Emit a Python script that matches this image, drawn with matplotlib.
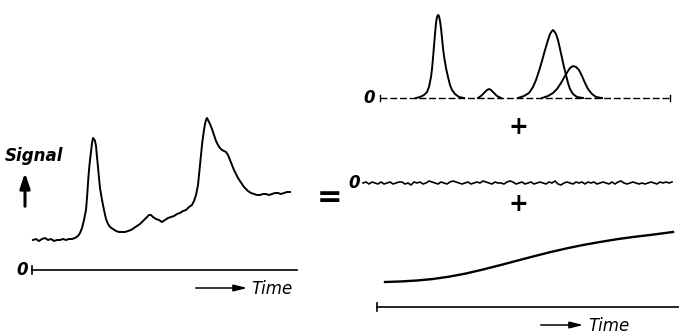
import numpy as np
import matplotlib
matplotlib.use("Agg")
import matplotlib.pyplot as plt

W, H = 679, 335

# left: measured signal (time offset, signal above zero)
sig_t = [0, 3, 6, 9, 12, 15, 18, 21, 24, 27, 30, 33, 36, 39, 42, 45, 47, 49, 51, 53,
         54, 55, 56, 57, 58, 59, 60, 61, 62, 63, 64, 65, 66, 67, 69, 71, 73, 75, 77, 80,
         83, 86, 89, 92, 95, 98, 101, 104, 107, 110, 113, 116, 118, 120, 123, 126, 129, 132, 135, 138,
         141, 144, 147, 150, 153, 156, 159, 161, 163, 165, 166, 167, 168, 169, 170, 171, 172, 173, 174, 175,
         177, 179, 181, 183, 185, 187, 189, 191, 193, 195, 197, 199, 201, 203, 205, 207, 209, 211, 213, 215,
         218, 221, 224, 227, 230, 233, 236, 239, 242, 245, 248, 251, 254, 257]
sig_v = [30, 31, 29, 31, 32, 30, 31, 29, 30, 30, 31, 30, 31, 31, 32, 34, 37, 42, 50, 60,
         72, 87, 100, 110, 118, 127, 132, 131, 129, 124, 113, 103, 92, 82, 70, 60, 51, 46, 43, 41,
         39, 38, 38, 38, 39, 40, 42, 44, 46, 49, 52, 55, 55, 53, 51, 50, 48, 50, 52, 53,
         54, 56, 57, 59, 60, 63, 65, 69, 75, 85, 95, 105, 115, 125, 133, 140, 146, 150, 152, 150,
         146, 141, 135, 129, 125, 122, 120, 119, 118, 115, 110, 105, 100, 96, 92, 89, 86, 83, 81, 79,
         77, 76, 75, 75, 76, 76, 75, 76, 77, 77, 76, 77, 78, 78]

# right top: individual peaks (time offset, height)
pk1_t = [36, 40, 44, 47, 49, 51, 52, 53, 54, 55, 56, 57, 58, 59, 60, 61, 62, 63, 64, 66, 68, 70, 72, 75, 79, 84]
pk1_v = [0, 1, 3, 6, 11, 21, 29, 40, 52, 64, 75, 81, 83, 82, 77, 70, 60, 50, 42, 30, 21, 13, 8, 4, 1, 0]
pk2_t = [98, 101, 104, 107, 109, 111, 114, 117, 121]
pk2_v = [0, 2, 5, 8, 9, 8, 5, 2, 0]
pk3_t = [138, 144, 149, 153, 156, 159, 162, 165, 168, 170, 172, 173, 174, 176, 178, 180, 182, 184, 186, 188, 190, 193, 197, 203]
pk3_v = [0, 2, 5, 11, 18, 27, 37, 48, 58, 64, 67, 68, 67, 64, 58, 49, 40, 31, 23, 15, 9, 4, 1, 0]
pk4_t = [162, 168, 173, 177, 181, 185, 188, 190, 193, 196, 199, 202, 205, 208, 212, 216, 222]
pk4_v = [0, 2, 5, 9, 15, 22, 27, 30, 32, 31, 28, 22, 15, 9, 4, 1, 0]

# right middle: noise
noise = [0, 1, -1, 1, 0, -1, 1, -1, 0, 1, -1, 0, 1, 1, -1, 0, -2, 1, 0, 1,
         -1, 0, 2, 1, 0, -1, 1, 0, -1, 1, 2, 1, 0, -1, 0, 1, -1, 0, 1, 0,
         2, 1, 0, -1, 1, 0, 0, -1, 1, 2, 1, -1, 0, 1, -1, 0, 1, -1, 0, 1,
         0, -1, 1, 0, 2, -1, -2, 0, 1, 0, -1, 1, 0, 1, -1, 1, 0, 1, -1, 0,
         1, 0, -1, 1, -1, 1, 2, 0, -1, 0, 1, 0, -1, 0, -1, 0, 1, 0, -1, 1,
         0, 1, 0, 1]

# right bottom: drifting baseline
base_t = [0, 15, 32, 48, 65, 81, 98, 115, 132, 148, 165, 181, 198, 215, 232, 248, 265, 275, 288]
base_v = [25, 25.5, 26.5, 28, 30.5, 33.5, 37.5, 41.8, 46.3, 50.5, 54.8, 58.5, 62, 65, 67.8, 70, 72, 73.3, 75]


def panel(x0, x1, y0, h):
    ax = fig.add_axes([x0 / W, (H - y0) / H, (x1 - x0) / W, h / H])
    ax.set_xlim(0, x1 - x0)
    ax.set_ylim(0, h)
    ax.axis("off")
    return ax


fig = plt.figure(figsize=(W / 100, H / 100), dpi=100)
lw = 1.4

# left composite signal
axl = panel(33, 297, 270, 160)
axl.plot(sig_t, sig_v, color="black", lw=lw, clip_on=False)
axl.plot([-1, 264], [0, 0], color="black", lw=1.2, clip_on=False)
axl.plot([-1, -1], [-4, 4], color="black", lw=1.2, clip_on=False)

# right: peaks
axp = panel(380, 670, 98, 90)
for t, v in [(pk1_t, pk1_v), (pk2_t, pk2_v), (pk3_t, pk3_v), (pk4_t, pk4_v)]:
    axp.plot(t, v, color="black", lw=lw, clip_on=False)
axp.plot([0, 290], [0, 0], color="black", lw=1.0, ls=(0, (5, 2)), clip_on=False)
axp.plot([0, 0], [-3, 3], color="black", lw=1.0, clip_on=False)
axp.plot([290, 290], [-3, 3], color="black", lw=1.0, clip_on=False)

# right: noise
axn = panel(363, 672, 183, 10)
axn.plot(np.arange(len(noise)) * 3, noise, color="black", lw=1.2, clip_on=False)

# right: baseline + time axis
axb = panel(385, 679, 307, 80)
axb.plot(base_t, base_v, color="black", lw=1.7, clip_on=False)
axb.plot([-8, 294], [0, 0], color="black", lw=1.2, clip_on=False)
axb.plot([-8, -8], [-4, 4], color="black", lw=1.2, clip_on=False)

# annotations in pixel space
ax0 = fig.add_axes([0, 0, 1, 1], zorder=-1)
ax0.set_xlim(0, W)
ax0.set_ylim(H, 0)
ax0.axis("off")

txt = dict(fontstyle="italic", color="black", va="center")
ax0.text(34, 156, "Signal", ha="center", fontsize=12, fontweight="bold", **txt)
ax0.annotate("", xy=(25, 170), xytext=(25, 209),
             arrowprops=dict(arrowstyle="-|>,head_width=0.3,head_length=0.9", color="black", lw=2.2))
ax0.text(28, 270, "0", ha="right", fontsize=12, fontweight="bold", **txt)
ax0.annotate("", xy=(250, 288), xytext=(193, 288),
             arrowprops=dict(arrowstyle="-|>,head_width=0.2,head_length=0.8", color="black", lw=1.1))
ax0.text(251, 289, "Time", ha="left", fontsize=12, **txt)

ax0.text(330, 197, "=", ha="center", fontsize=22, fontweight="bold", **txt)
ax0.text(375, 98, "0", ha="right", fontsize=12, fontweight="bold", **txt)
ax0.text(518, 127, "+", ha="center", fontsize=17, fontweight="bold", **txt)
ax0.text(360, 183, "0", ha="right", fontsize=12, fontweight="bold", **txt)
ax0.text(518, 204, "+", ha="center", fontsize=17, fontweight="bold", **txt)
ax0.annotate("", xy=(586, 325), xytext=(538, 325),
             arrowprops=dict(arrowstyle="-|>,head_width=0.2,head_length=0.8", color="black", lw=1.1))
ax0.text(588, 326, "Time", ha="left", fontsize=12, **txt)

fig.savefig("out.png", dpi=100, facecolor="white")
